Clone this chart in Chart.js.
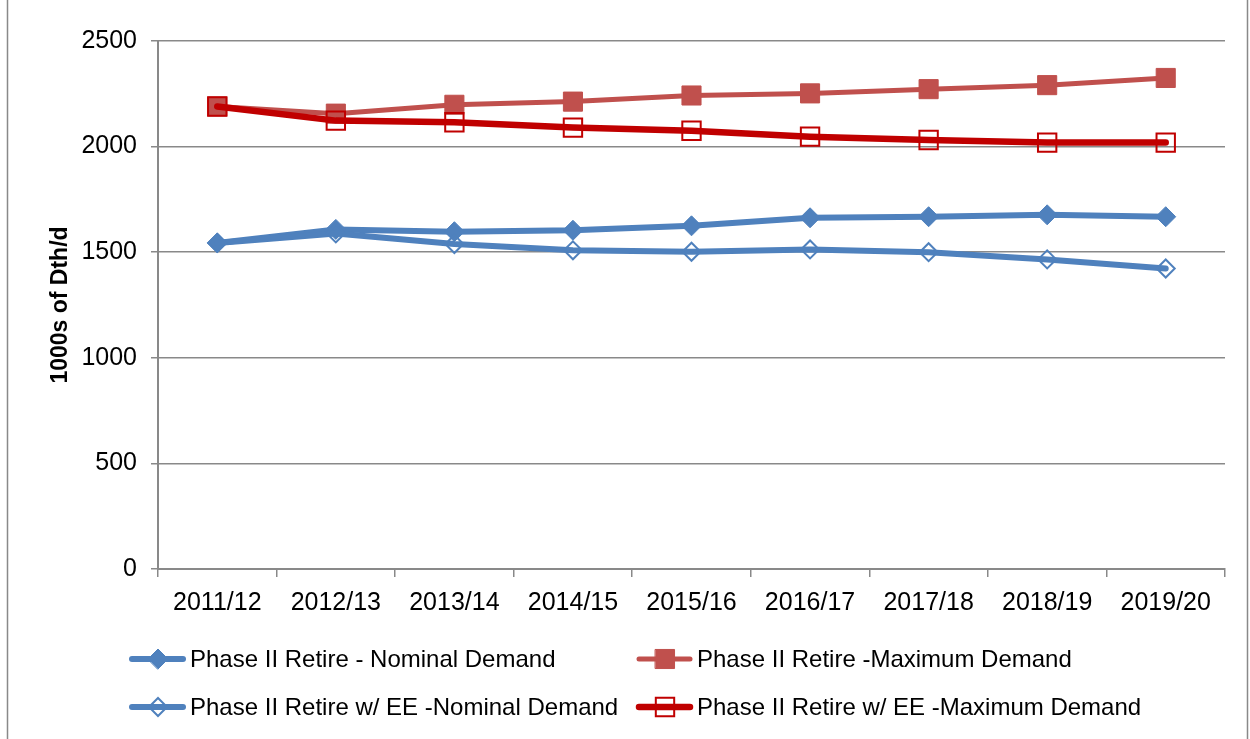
<!DOCTYPE html>
<html>
<head>
<meta charset="utf-8">
<script src="https://cdn.jsdelivr.net/npm/chart.js@4/dist/chart.umd.min.js"></script>
<style>
  body { margin: 0; background: #fff; }
  #wrap { width: 1250px; height: 739px; }
</style>
</head>
<body>
<div id="wrap"><canvas id="myChart" width="1250" height="739"></canvas></div>
<script>
const years = ['2011/12', '2012/13', '2013/14', '2014/15', '2015/16', '2016/17', '2017/18', '2018/19', '2019/20'];

const nominal = [1544, 1608, 1597, 1604, 1625, 1663, 1668, 1677, 1668];
const maximum = [2190, 2156, 2198, 2213, 2242, 2252, 2272, 2291, 2325];
const eeNominal = [1544, 1589, 1539, 1509, 1502, 1513, 1500, 1466, 1423];
const eeMaximum = [2190, 2123, 2115, 2090, 2075, 2047, 2031, 2019, 2019];

const seriesNames = [
  'Phase II Retire - Nominal Demand',
  'Phase II Retire -Maximum Demand',
  'Phase II Retire w/ EE -Nominal Demand',
  'Phase II Retire w/ EE -Maximum Demand'
];

const yTicks = [0, 500, 1000, 1500, 2000, 2500];

const BLUE = '#4F81BD';
const RED = '#C0504D';
const DARKRED = '#C00000';
const GRID = '#898989';
const FONT = '"Liberation Sans", Arial, sans-serif';

// legend drawn by hand: line + marker like the spreadsheet one
const legendPlugin = {
  id: 'sheetLegend',
  afterDraw(chart) {
    const ctx = chart.ctx;
    const spots = [[130, 659], [637, 659], [130, 707], [637, 707]];
    chart.data.datasets.forEach((ds, i) => {
      const [x, y] = spots[i];
      ctx.save();
      ctx.strokeStyle = ds.borderColor;
      ctx.lineWidth = ds.borderWidth;
      ctx.lineCap = 'round';
      ctx.beginPath();
      ctx.moveTo(x + 2, y);
      ctx.lineTo(x + 53, y);
      ctx.stroke();
      ctx.fillStyle = ds.pointBackgroundColor;
      ctx.strokeStyle = ds.pointBorderColor;
      ctx.lineWidth = ds.pointBorderWidth;
      Chart.helpers.drawPoint(ctx, {
        pointStyle: ds.pointStyle,
        radius: ds.pointRadius,
        borderWidth: ds.pointBorderWidth,
        rotation: 0
      }, x + 28, y);
      ctx.fillStyle = '#000';
      ctx.font = '24px ' + FONT;
      ctx.textBaseline = 'middle';
      ctx.fillText(seriesNames[i], x + 60, y + 1);
      ctx.restore();
    });
    // outer frame
    ctx.save();
    ctx.strokeStyle = GRID;
    ctx.lineWidth = 1.5;
    ctx.beginPath();
    ctx.moveTo(7.5, 0); ctx.lineTo(7.5, 739);
    ctx.moveTo(1247.5, 0); ctx.lineTo(1247.5, 739);
    ctx.stroke();
    ctx.restore();
  }
};

const ctx = document.getElementById('myChart').getContext('2d');
new Chart(ctx, {
  type: 'line',
  data: {
    labels: years,
    datasets: [
      {
        label: seriesNames[0], data: nominal, order: 3,
        borderColor: BLUE, borderWidth: 6,
        pointStyle: 'rectRot', pointRadius: 10,
        pointBackgroundColor: BLUE, pointBorderColor: BLUE, pointBorderWidth: 1
      },
      {
        label: seriesNames[1], data: maximum, order: 2,
        borderColor: RED, borderWidth: 5,
        pointStyle: 'rect', pointRadius: 13.5,
        pointBackgroundColor: RED, pointBorderColor: RED, pointBorderWidth: 1
      },
      {
        label: seriesNames[2], data: eeNominal, order: 1,
        borderColor: BLUE, borderWidth: 6,
        pointStyle: 'rectRot', pointRadius: 9,
        pointBackgroundColor: 'rgba(0,0,0,0)', pointBorderColor: BLUE, pointBorderWidth: 2
      },
      {
        label: seriesNames[3], data: eeMaximum, order: 0,
        borderColor: DARKRED, borderWidth: 6.5,
        pointStyle: 'rect', pointRadius: 13,
        pointBackgroundColor: 'rgba(0,0,0,0)', pointBorderColor: DARKRED, pointBorderWidth: 2
      }
    ].map(d => Object.assign({ fill: false, tension: 0, borderCapStyle: 'round', borderJoinStyle: 'round' }, d))
  },
  options: {
    responsive: false,
    animation: false,
    layout: { padding: { top: 41, right: 25, left: 0, bottom: 0 } },
    plugins: {
      legend: { display: false },
      tooltip: { enabled: false }
    },
    scales: {
      x: {
        offset: true,
        grid: { offset: true, drawOnChartArea: false, color: GRID, lineWidth: 1.5, tickLength: 8 },
        border: { color: GRID, width: 2 },
        ticks: { color: '#000', font: { family: FONT, size: 25 }, padding: 11, maxRotation: 0, autoSkip: false },
        afterFit(scale) { scale.height = 170; }
      },
      y: {
        min: 0, max: 2500,
        afterBuildTicks(scale) { scale.ticks = yTicks.map(v => ({ value: v })); },
        grid: { color: GRID, lineWidth: 1.5, tickLength: 7 },
        border: { color: GRID, width: 2 },
        ticks: {
          color: '#000', font: { family: FONT, size: 25 }, padding: 14,
          callback: v => String(v)
        },
        title: {
          display: true, text: '1000s of Dth/d', color: '#000',
          font: { family: FONT, size: 23, weight: 'bold' }, padding: { top: 47, bottom: 0 }
        },
        afterFit(scale) { scale.width = 158; }
      }
    }
  },
  plugins: [legendPlugin]
});
</script>
</body>
</html>
